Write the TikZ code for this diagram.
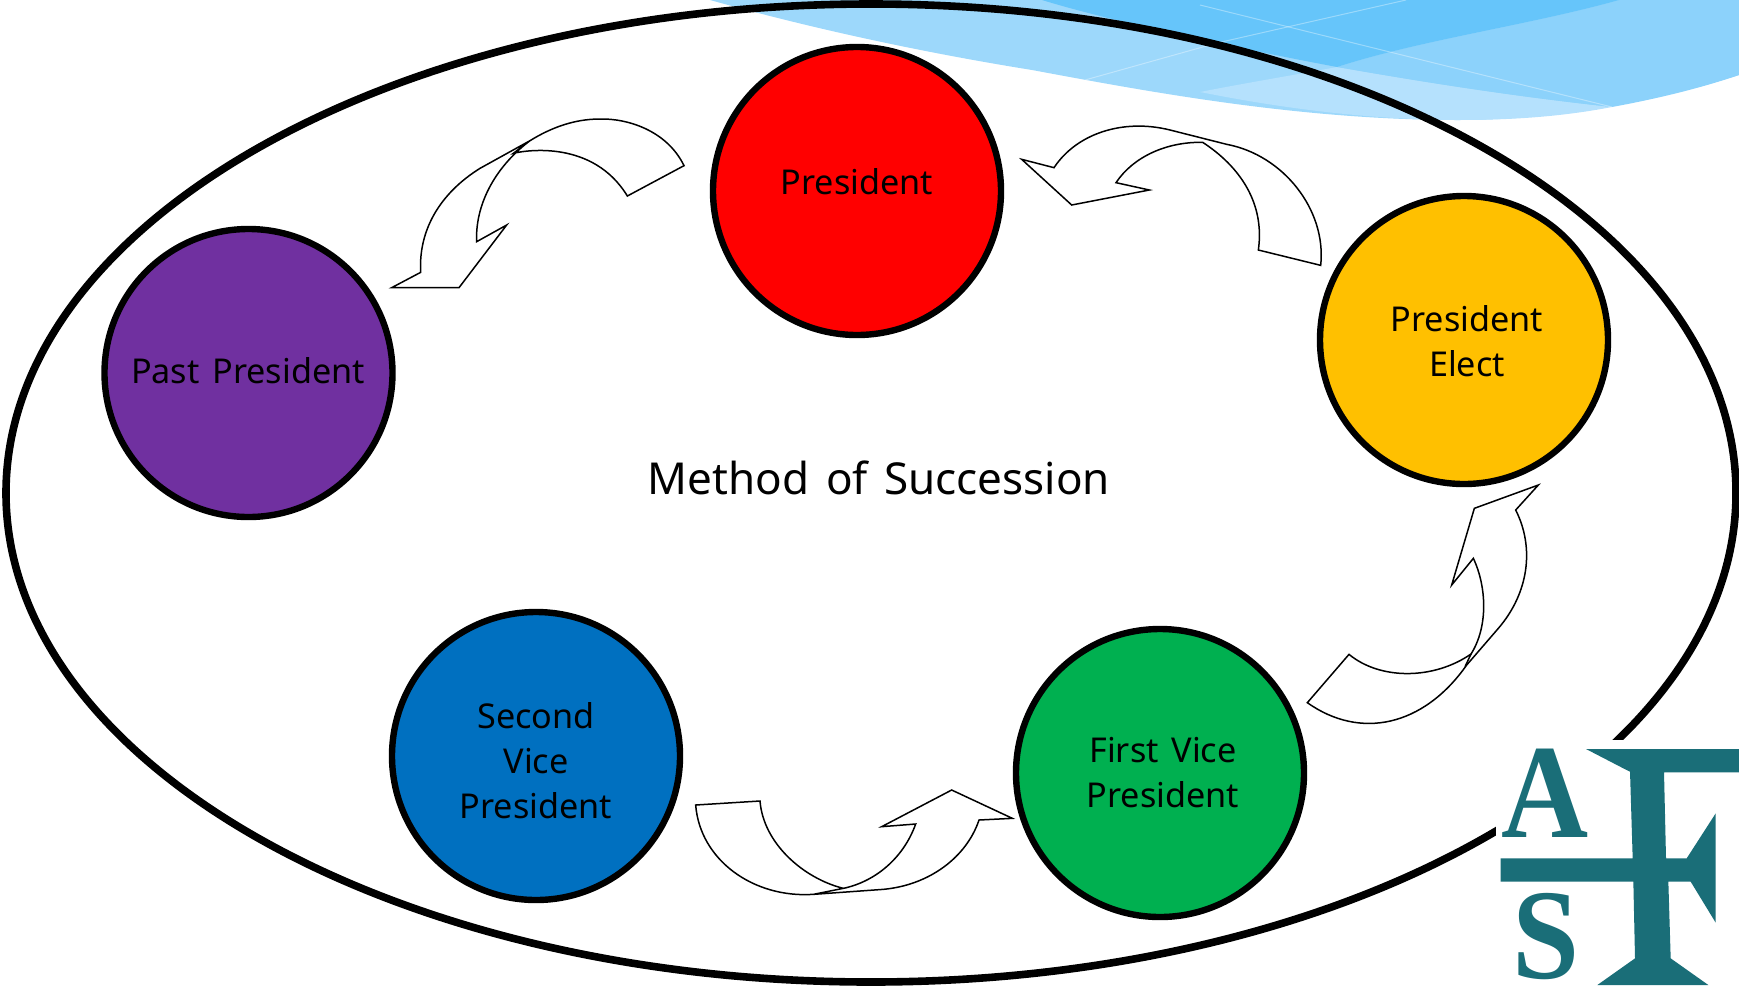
\documentclass[tikz,border=0pt]{standalone}
\usetikzlibrary{shapes.geometric}
\usepackage{fontspec}
\setmainfont[WordSpace=1.45]{Noto Sans}
\newfontfamily\logofont{Liberation Serif}[BoldFont={Liberation Serif Bold}]
\definecolor{redc}{HTML}{FF0000}
\definecolor{purplec}{HTML}{7030A0}
\definecolor{yellowc}{HTML}{FFC000}
\definecolor{greenc}{HTML}{00B050}
\definecolor{bluec}{HTML}{0070C0}
\definecolor{teal1}{HTML}{1A6E78}
\definecolor{wavea}{HTML}{9DD8FB}
\definecolor{waveb}{HTML}{66C5FA}
\definecolor{wavec}{HTML}{8CD2FB}
\definecolor{waved}{HTML}{B5E1FD}
\tikzset{
  office/.style={circle,draw=black,line width=3.2pt,minimum size=144pt,inner sep=0pt},
  lbl/.style={font=\fontsize{17.1pt}{22.5pt}\selectfont,align=center,inner sep=0pt,text=black},
  swoop/.style={draw=black,fill=white,line width=0.75pt,line join=miter},
  logoletter/.style={text=teal1,inner sep=0pt,font=\logofont\bfseries\fontsize{67pt}{67pt}\selectfont},
  glint/.style={white,opacity=0.35,line width=0.5pt},
}
\begin{document}
\begin{tikzpicture}[x=0.5pt,y=-0.5pt]
\useasboundingbox (0,0) rectangle (1739,986);
% wave
\fill[wavea] (710,0) .. controls (810,28) and (920,52) .. (1032,70) .. controls (1150,92) and (1300,120) .. (1458,120) .. controls (1560,120) and (1660,100) .. (1739,75) -- (1739,0) -- cycle;
\fill[waved] (1200,92) .. controls (1240,84) and (1300,74) .. (1337,67) .. controls (1400,78) and (1500,95) .. (1612,107) .. controls (1560,117) and (1510,120) .. (1458,120) .. controls (1370,120) and (1280,108) .. (1200,92) -- cycle;
\fill[wavec] (1337,67) .. controls (1420,40) and (1530,25) .. (1619,0) -- (1739,0) -- (1739,75) .. controls (1695,90) and (1650,100) .. (1612,107) .. controls (1500,95) and (1400,78) .. (1337,67) -- cycle;
\fill[waveb] (1042,0) .. controls (1100,18) and (1220,45) .. (1337,67) .. controls (1420,40) and (1530,25) .. (1619,0) -- cycle;
\draw[glint] (1200,5) -- (1612,107);
\draw[glint] (1217,43) -- (1406,0);
\draw[glint] (1085,80) -- (1217,43);
% ellipse
\node[draw=black,line width=3.8pt,ellipse,minimum width=865pt,minimum height=489pt,inner sep=0pt] (ring) at (871,493) {};
% logo background
\fill[white] (1496,740) rectangle (1739,986);
% circles
\node[office,fill=redc] (pres) at (857,191) {};
\node[office,fill=purplec] (past) at (248.5,373) {};
\node[office,fill=yellowc] (elect) at (1464,340) {};
\node[office,fill=greenc] (first) at (1160,773) {};
\node[office,fill=bluec] (second) at (536,756) {};
% labels
\node[lbl] (tpres) at (857,182) {President};
\node[lbl] (tpast) at (248,371) {Past President};
\node[lbl] (telect) at (1467,341) {President\\Elect};
\node[lbl] (tfirst) at (1163,773) {First Vice\\President};
\node[lbl] (tsecond) at (536,761) {Second\\Vice\\President};
\node[lbl,font=\fontsize{22pt}{27pt}\selectfont] (title) at (879,478) {Method of Succession};
% arrow past
\begin{scope}[shift={(380,100)},x=0.16667pt,y=-0.16667pt]
\draw[swoop] (912,197) .. controls (860,90) and (740,55) .. (660,57) .. controls (580,57) and (510,85) .. (450,122) -- (300,205) .. controls (180,280) and (115,390) .. (122,517) -- (35,563) -- (237,563) -- (380,375) -- (290,425) .. controls (285,320) and (340,205) .. (450,122) -- (400,160) .. controls (440,150) and (640,120) .. (742,288) -- cycle;
\end{scope}
% arrow to president
\begin{scope}[shift={(1010,110)},x=0.16667pt,y=-0.16667pt]
\draw[swoop] (932,466) .. controls (950,300) and (820,135) .. (650,103) -- (480,60) .. controls (340,25) and (200,70) .. (132,173) -- (35,148) -- (185,285) -- (418,240) -- (318,218) .. controls (370,140) and (470,95) .. (578,97) .. controls (690,170) and (765,280) .. (745,420) -- cycle;
\end{scope}
% arrow to elect
\begin{scope}[shift={(1290,470)},x=0.16667pt,y=-0.16667pt]
\draw[swoop] (52,698) .. controls (210,810) and (400,770) .. (530,585) -- (625,475) .. controls (715,370) and (735,235) .. (677,120) -- (745,45) -- (553,115) -- (485,345) -- (550,265) .. controls (590,350) and (595,470) .. (543,552) .. controls (430,630) and (270,630) .. (177,553) -- cycle;
\draw[swoop] (543,552) -- (525,590);
\end{scope}
% arrow to first
\begin{scope}[shift={(680,770)},x=0.16667pt,y=-0.16667pt]
\draw[swoop] (47,105) .. controls (60,270) and (220,385) .. (400,373) -- (610,358) .. controls (750,345) and (860,260) .. (897,150) -- (997,145) -- (815,60) -- (605,170) -- (707,162) .. controls (670,265) and (585,335) .. (490,355) -- (400,373) -- (490,355) .. controls (370,325) and (250,220) .. (240,93) -- cycle;
\end{scope}
% logo
\begin{scope}[shift={(1460,720)},x=0.16667pt,y=-0.16667pt]
\fill[teal1] (378,87) -- (837,87) -- (837,157) -- (612,157) -- (618,415) -- (680,415) -- (767,280) -- (767,608) -- (692,485) -- (625,485) -- (632,715) -- (745,795) -- (412,795) -- (525,715) -- (520,485) -- (122,485) -- (122,415) -- (518,415) -- (510,155) -- (490,145) -- cycle;
\node[logoletter,xscale=0.9] (logoa) at (254,221) {A};
\node[logoletter,xscale=0.9,yscale=0.96] (logos) at (257,650) {S};
\end{scope}
\end{tikzpicture}
\end{document}
